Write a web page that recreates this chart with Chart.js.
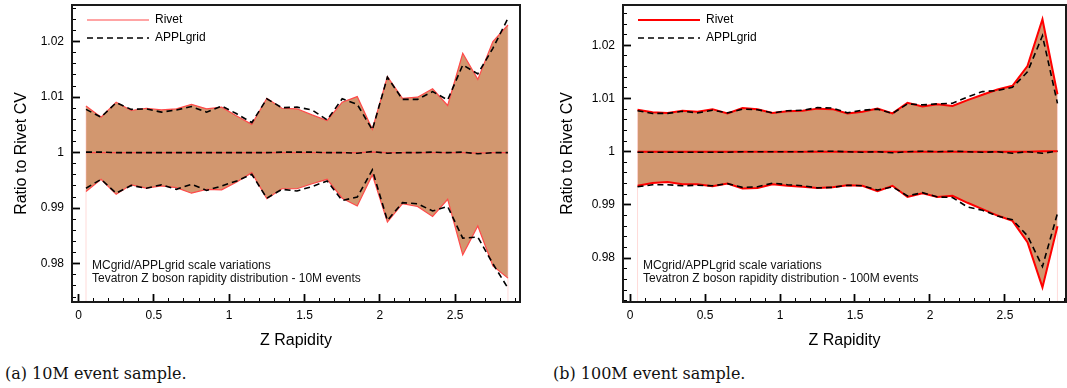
<!DOCTYPE html>
<html><head><meta charset="utf-8">
<script src="https://cdn.jsdelivr.net/npm/chart.js@4.4.1/dist/chart.umd.min.js"></script>
<style>
html,body{margin:0;padding:0;background:#fff;}
body{width:1067px;height:388px;position:relative;overflow:hidden;font-family:"Liberation Sans",Arial,sans-serif;}
canvas{position:absolute;top:0;}
#cL{left:0;} #cR{left:540px;}
.note{position:absolute;font-size:12px;line-height:13px;color:#111;white-space:nowrap;}
.cap{position:absolute;font-family:"DejaVu Serif",serif;font-size:16px;line-height:18px;color:#111;white-space:nowrap;top:365px;}
</style></head><body>
<canvas id="cL" width="530" height="360"></canvas>
<canvas id="cR" width="527" height="360"></canvas>
<div class="note" style="left:92px;top:259px">MCgrid/APPLgrid scale variations<br>Tevatron Z boson rapidity distribution - 10M events</div>
<div class="note" style="left:643px;top:259px">MCgrid/APPLgrid scale variations<br>Tevatron Z boson rapidity distribution - 100M events</div>
<div class="cap" style="left:5px">(a) 10M event sample.</div>
<div class="cap" style="left:553px">(b) 100M event sample.</div>
<script>
// ---- data ----
const rapidity = [0.05,0.15,0.25,0.35,0.45,0.55,0.65,0.75,0.85,0.95,1.05,1.15,1.25,1.35,1.45,1.55,1.65,1.75,1.85,1.95,2.05,2.15,2.25,2.35,2.45,2.55,2.65,2.75,2.85];

// (a) 10M events
const rivetUp10 = [1.0084,1.0064,1.0091,1.0076,1.0080,1.0077,1.0079,1.0087,1.0079,1.0082,1.0066,1.0051,1.0098,1.0080,1.0079,1.0068,1.0058,1.0091,1.0101,1.0042,1.0137,1.0098,1.0100,1.0115,1.0085,1.0179,1.0132,1.0200,1.0230];
const rivetCv10 = [1,1,1,1,1,1,1,1,1,1,1,1,1,1,1,1,1,1,1,1.0001,1,1,1,1,1,1,0.9999,1,1];
const rivetLo10 = [0.9930,0.9952,0.9925,0.9942,0.9936,0.9940,0.9937,0.9927,0.9934,0.9933,0.9947,0.9964,0.9917,0.9935,0.9935,0.9944,0.9952,0.9918,0.9904,0.9960,0.9875,0.9908,0.9903,0.9885,0.9916,0.9816,0.9868,0.9796,0.9774];
const applUp10 = [1.0078,1.0064,1.0090,1.0078,1.0079,1.0073,1.0077,1.0083,1.0073,1.0084,1.0070,1.0054,1.0097,1.0081,1.0082,1.0077,1.0059,1.0097,1.0087,1.0041,1.0136,1.0096,1.0096,1.0110,1.0095,1.0158,1.0142,1.0188,1.0242];
const applCv10 = [1.0001,1.0001,1,1,1,1,1,1,1,1,1,1,1,1.0001,1.0001,1.0001,1,1,0.9999,1.0002,0.9999,1,1,1.0001,1,1.0001,0.9998,1,1];
const applLo10 = [0.9936,0.9952,0.9927,0.9941,0.9936,0.9942,0.9934,0.9943,0.9932,0.9940,0.9949,0.9961,0.9918,0.9934,0.9931,0.9939,0.9949,0.9914,0.9920,0.9969,0.9878,0.9910,0.9908,0.9895,0.9903,0.9846,0.9848,0.9800,0.9756];

// (b) 100M events
const rivetUp100 = [1.0079,1.0074,1.0073,1.0077,1.0075,1.0080,1.0072,1.0082,1.0080,1.0073,1.0076,1.0077,1.0081,1.0080,1.0072,1.0075,1.0081,1.0072,1.0092,1.0085,1.0089,1.0086,1.0097,1.0107,1.0117,1.0124,1.0161,1.0249,1.0108];
const rivetCv100 = [1,1,1,1,1,1,1,1,1,1,1,1,1,1,1,1,1,1,1,1,1,1,1,1,1,1,1,1.0001,1.0001];
const rivetLo100 = [0.9936,0.9941,0.9943,0.9939,0.9939,0.9935,0.9940,0.9931,0.9932,0.9939,0.9936,0.9934,0.9932,0.9933,0.9937,0.9936,0.9926,0.9936,0.9915,0.9922,0.9915,0.9917,0.9904,0.9892,0.9880,0.9870,0.9830,0.9745,0.9860];
const applUp100 = [1.0077,1.0072,1.0072,1.0076,1.0073,1.0078,1.0073,1.0080,1.0079,1.0073,1.0077,1.0078,1.0083,1.0082,1.0073,1.0078,1.0080,1.0072,1.0090,1.0088,1.0090,1.0091,1.0103,1.0113,1.0115,1.0121,1.0150,1.0218,1.0091];
const applCv100 = [0.9999,0.9999,0.9999,0.9999,0.9999,0.9999,0.9999,1,1,1,1,1,1.0001,1.0001,1,0.9999,1,0.9998,1,1.0001,1,1.0001,1,0.9999,1,0.9997,1,0.9997,1.0001];
const applLo100 = [0.9934,0.9938,0.9938,0.9936,0.9937,0.9936,0.9940,0.9933,0.9934,0.9941,0.9938,0.9936,0.9932,0.9933,0.9937,0.9936,0.9928,0.9934,0.9917,0.9923,0.9915,0.9914,0.9896,0.9890,0.9879,0.9872,0.9842,0.9784,0.9884];

// axis ranges and tick steps
const xRange10 = [-0.043, 2.93];
const yRange10 = [0.9731, 1.0266];
const xRange100 = [-0.047, 2.907];
const yRange100 = [0.97175, 1.02758];
const xMajorStep = 0.5, xMinorStep = 0.1, yMajorStep = 0.01, yMinorStep = 0.002;

// ---- rendering ----
const FONT = '"Liberation Sans", Arial, Helvetica, sans-serif';
Chart.defaults.font.family = FONT;
Chart.defaults.color = '#000';
const FILL = '#d2976f';

const fmt = v => String(parseFloat(Number(v).toFixed(4)));
const pts = ys => rapidity.map((x, i) => ({x, y: ys[i]}));

// legend sample for a dashed line (Chart.js legend does not dash point-style lines)
function dashedSample(w, color, lw, dash) {
  const c = document.createElement('canvas');
  c.width = w; c.height = 4;
  const g = c.getContext('2d');
  g.strokeStyle = color; g.lineWidth = lw; g.setLineDash(dash);
  g.beginPath(); g.moveTo(0, 2); g.lineTo(w, 2); g.stroke();
  return c;
}

const framePlugin = {
  id: 'frame',
  afterDraw(chart) {
    const a = chart.chartArea, ctx = chart.ctx;
    ctx.save();
    ctx.strokeStyle = '#1a1a1a';
    ctx.lineWidth = 2;
    ctx.strokeRect(a.left, a.top, a.right - a.left, a.bottom - a.top);
    ctx.restore();
  }
};
const legendPos = {
  id: 'legendPos',
  afterLayout(chart, args, opts) {
    const lg = chart.legend; if (!lg) return;
    const a = chart.chartArea;
    lg.left = a.left + opts.dx; lg.top = a.top + opts.dy;
    lg.right = a.right; lg.bottom = a.bottom;
    lg.width = lg.right - lg.left; lg.height = lg.bottom - lg.top;
  }
};

function makeChart(id, s) {
  const red = s.red, rw = s.redW;
  const dash = [6, 4];
  const line = (label, data, color, w, extra) => Object.assign({
    label, data: pts(data), borderColor: color, backgroundColor: color, borderWidth: w,
    pointRadius: 0, tension: 0, fill: false, pointStyle: 'line'
  }, extra || {});
  const edge = (i) => ({
    label: 'edge', data: [{x: rapidity[i], y: s.yr[0]}, {x: rapidity[i], y: s.up[i]}],
    borderColor: 'rgba(255,190,185,0.55)', borderWidth: 1, pointRadius: 0, fill: false, order: 3
  });
  const axisCommon = (range, step, isMajor, horiz) => ({
    type: 'linear', min: range[0], max: range[1],
    ticks: { stepSize: step, includeBounds: false, display: isMajor, callback: fmt,
             font: {size: 12, family: FONT}, color: '#000' },
    grid: { drawOnChartArea: false, tickLength: isMajor ? -8 : -4, tickWidth: isMajor ? 1.8 : 1,
            tickColor: '#000' },
    border: { display: false }
  });
  const noPad = sc => { sc.paddingTop = 0; sc.paddingBottom = 0; sc.paddingLeft = 0; sc.paddingRight = 0; };
  const x = axisCommon(s.xr, xMajorStep, true);
  x.position = 'bottom'; x.weight = 1; x.ticks.padding = 14;
  x.title = { display: true, text: 'Z Rapidity', font: {size: 16, family: FONT}, color: '#000', padding: {top: 0, bottom: 10} };
  x.afterFit = sc => { sc.height = 58; noPad(sc); };
  const xm = axisCommon(s.xr, xMinorStep, false);
  xm.position = 'bottom'; xm.weight = 0; xm.afterFit = sc => { sc.height = 0; noPad(sc); };
  const y = axisCommon(s.yr, yMajorStep, true);
  y.position = 'left'; y.weight = 1; y.ticks.padding = 16;
  y.title = { display: true, text: 'Ratio to Rivet CV', font: {size: 16, family: FONT}, color: '#000', padding: {top: s.yTitlePad, bottom: 0} };
  y.afterFit = sc => { sc.width = s.yAxisW; noPad(sc); };
  const ym = axisCommon(s.yr, yMinorStep, false);
  ym.position = 'left'; ym.weight = 0; ym.afterFit = sc => { sc.width = 0; noPad(sc); };
  ym.axis = 'y'; xm.axis = 'x';

  const applSample = dashedSample(62, '#000', 1.6, dash);

  return new Chart(document.getElementById(id), {
    type: 'line',
    data: { datasets: [
      line('Rivet', s.up, red, rw, {fill: {target: 2}, backgroundColor: FILL, order: 1}),
      line('Rivet CV', s.cv, red, rw, {order: 1}),
      line('Rivet low', s.lo, red, rw, {order: 1}),
      line('APPLgrid', s.aup, '#000', 1.6, {borderDash: dash, order: 0, pointStyle: applSample}),
      line('APPLgrid CV', s.acv, '#000', 1.6, {borderDash: dash, order: 0}),
      line('APPLgrid low', s.alo, '#000', 1.6, {borderDash: dash, order: 0}),
      edge(0), edge(rapidity.length - 1)
    ]},
    options: {
      responsive: false, animation: false, devicePixelRatio: 1,
      layout: { padding: {left: 0, top: 5, right: s.padRight, bottom: 0} },
      scales: { x, xm, y, ym },
      plugins: {
        filler: { drawTime: 'beforeDatasetsDraw' },
        tooltip: { enabled: false },
        legendPos: { dx: 9, dy: 3 },
        legend: {
          position: 'chartArea', align: 'start',
          labels: {
            usePointStyle: true, pointStyleWidth: 62, padding: 6,
            font: {size: 12, family: FONT}, color: '#000',
            filter: it => it.text === 'Rivet' || it.text === 'APPLgrid',
            sort: (a, b) => a.datasetIndex - b.datasetIndex
          }
        }
      }
    },
    plugins: [framePlugin, legendPos]
  });
}

makeChart('cL', { up: rivetUp10, cv: rivetCv10, lo: rivetLo10, aup: applUp10, acv: applCv10, alo: applLo10,
  xr: xRange10, yr: yRange10, red: '#ff4a4a', redW: 1.2, yAxisW: 72, yTitlePad: 12, padRight: 10 });
makeChart('cR', { up: rivetUp100, cv: rivetCv100, lo: rivetLo100, aup: applUp100, acv: applCv100, alo: applLo100,
  xr: xRange100, yr: yRange100, red: '#ff0000', redW: 2, yAxisW: 83, yTitlePad: 18, padRight: 1 });
</script>
</body></html>
